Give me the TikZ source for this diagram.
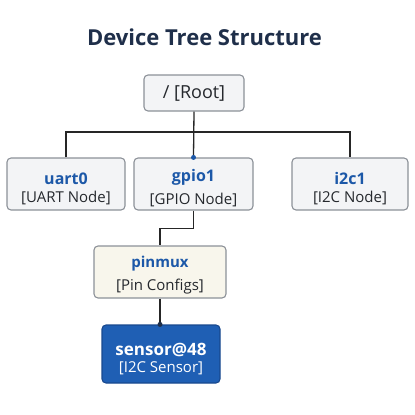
\documentclass[tikz,border=0pt]{standalone}
\usepackage{fontspec}
\setmainfont{Open Sans}
\usepackage{xcolor}
\usepackage{tikz}

\definecolor{titlenavy}{HTML}{1F2F4A}
\definecolor{nameblue}{HTML}{1C58A8}
\definecolor{boxline}{HTML}{8C9198}
\definecolor{boxfill}{HTML}{F3F4F6}
\definecolor{pinfill}{HTML}{F8F6EC}
\definecolor{sensfill}{HTML}{1F5FB4}
\definecolor{sensline}{HTML}{18488E}
\definecolor{typegray}{HTML}{25282D}

% invisible padding above the first line of a box
\newcommand{\topgap}[1]{\rule{0pt}{#1}}

\begin{document}
\begin{tikzpicture}[x=1pt, y=-1pt,
    treebox/.style={rectangle, draw=boxline, line width=1.1pt, fill=boxfill, rounded corners=4pt, align=center, inner sep=0pt},
    link/.style={draw=black!85, line width=1.3pt},
    dot/.style={circle, inner sep=0pt, minimum size=5pt}]
    \useasboundingbox (0,0) rectangle (415,415);

    % Title
    \node (title) at (204.5,37) {\fontsize{22}{26}\selectfont\bfseries\color{titlenavy}Device Tree Structure};

    % Root
    \node (root) [treebox, minimum width=100pt, minimum height=36pt] at (194,93)
        {\fontsize{18}{20}\selectfont\color{typegray}/ [Root]};

    % Controllers
    \node (uart) [treebox, minimum width=118pt, minimum height=52pt] at (66,184)
        {\topgap{20.5pt}\fontsize{16}{20}\selectfont\bfseries\color{nameblue}uart0\\[6pt]
         \fontsize{15}{18}\selectfont\color{typegray}{[UART Node]}};
    \node (gpio) [treebox, minimum width=119pt, minimum height=52pt] at (193.5,184)
        {\topgap{20.5pt}\fontsize{16}{20}\selectfont\bfseries\color{nameblue}gpio1\\[6pt]
         \fontsize{15}{18}\selectfont\color{typegray}{[GPIO Node]}};
    \node (i2c) [treebox, minimum width=116pt, minimum height=52pt] at (350,184)
        {\topgap{20.5pt}\fontsize{16}{20}\selectfont\bfseries\color{nameblue}i2c1\\[6pt]
         \fontsize{15}{18}\selectfont\color{typegray}{[I2C Node]}};

    % Pin mux
    \node (pinmux) [treebox, fill=pinfill, minimum width=132pt, minimum height=52pt] at (160,272)
        {\topgap{17pt}\fontsize{15}{19}\selectfont\bfseries\color{nameblue}pinmux\\[7pt]
         \fontsize{15}{18}\selectfont\color{typegray}{[Pin Configs]}};

    % Sensor
    \node (sensor) [treebox, draw=sensline, fill=sensfill, minimum width=118pt, minimum height=58pt] at (161,354)
        {\topgap{22.5pt}\fontsize{17}{20}\selectfont\bfseries\color{white}sensor@48\\[3pt]
         \fontsize{15}{18}\selectfont\color{white}{[I2C Sensor]}};

    % Links
    \coordinate (bus) at (194,132);
    \draw[link] (root.south) -- (gpio.north);
    \draw[link] (uart.north) |- (bus) -| (i2c.north);
    \draw[link] (gpio.south) -- ++(0,18) -| (pinmux.north);
    \draw[link] (pinmux.south) -- (pinmux.south |- sensor.north);
    \node [dot, fill=nameblue] at (gpio.north) {};
    \node [dot, fill=titlenavy] at (pinmux.south |- sensor.north) {};
\end{tikzpicture}
\end{document}
